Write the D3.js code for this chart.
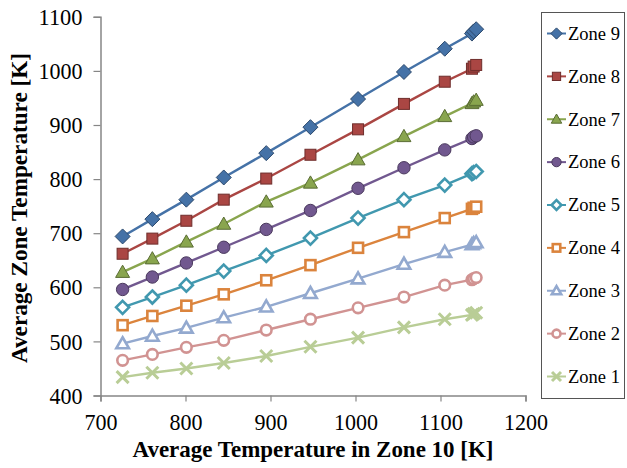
<!DOCTYPE html>
<html>
<head>
<meta charset="utf-8">
<script src="https://d3js.org/d3.v7.min.js"></script>
<style>
  body { margin: 0; background: #fff; }
</style>
</head>
<body>
<div id="chart"></div>
<script>
// Average temperature in zone 10 (x values shared by every series)
const zone10 = [726, 761, 801, 845, 895, 947, 1003, 1057, 1105, 1137, 1139, 1142];

const zone9 = [694, 726, 762, 803, 848, 896, 948, 998, 1041, 1069, 1073, 1077];
const zone8 = [662, 690, 723, 762, 801, 845, 892, 939, 980, 1004, 1008, 1011];
const zone7 = [628, 653, 684, 717, 758, 793, 836, 879, 916, 940, 943, 946];
const zone6 = [596, 619, 645, 674, 707, 742, 783, 821, 854, 875, 878, 880];
const zone5 = [563, 582, 604, 630, 659, 691, 728, 762, 789, 810, 812, 814];
const zone4 = [530, 547, 566, 587, 613, 641, 673, 702, 728, 745, 747, 749];
const zone3 = [496, 510, 525, 544, 564, 589, 616, 643, 665, 679, 681, 683];
const zone2 = [465, 476, 489, 502, 521, 541, 562, 582, 604, 614, 616, 618];
const zone1 = [434, 442, 450, 460, 473, 490, 507, 526, 541, 549, 551, 553];

const xTicks = [700, 800, 900, 1000, 1100, 1200];
const yTicks = [400, 500, 600, 700, 800, 900, 1000, 1100];

// legend order, top to bottom
const series = [
  { name: "Zone 9", values: zone9, color: "#4572A7", marker: "diamond", fill: true },
  { name: "Zone 8", values: zone8, color: "#AA4643", marker: "square", fill: true },
  { name: "Zone 7", values: zone7, color: "#89A54E", marker: "triangle", fill: true },
  { name: "Zone 6", values: zone6, color: "#71588F", marker: "circle", fill: true },
  { name: "Zone 5", values: zone5, color: "#4198AF", marker: "diamond", fill: false },
  { name: "Zone 4", values: zone4, color: "#DB843D", marker: "square", fill: false },
  { name: "Zone 3", values: zone3, color: "#93A9CF", marker: "triangle", fill: false },
  { name: "Zone 2", values: zone2, color: "#D19392", marker: "circle", fill: false },
  { name: "Zone 1", values: zone1, color: "#B9CD96", marker: "cross", fill: false }
];

const serif = "Liberation Serif";
const width = 627, height = 468;
const svg = d3.select("#chart").append("svg")
  .attr("width", width).attr("height", height)
  .attr("font-family", serif);

const x = d3.scaleLinear().domain([700, 1200]).range([100.5, 525.5]);
const y = d3.scaleLinear().domain([400, 1100]).range([395.5, 16.8]);

const axisColor = "#868686";

// x axis
const gx = svg.append("g").attr("transform", `translate(0,${y(400)})`)
  .call(d3.axisBottom(x).tickValues(xTicks).tickSize(6).tickFormat(d3.format("d")));
// y axis
const gy = svg.append("g").attr("transform", `translate(${x(700)},0)`)
  .call(d3.axisLeft(y).tickValues(yTicks).tickSize(7).tickPadding(11).tickFormat(d3.format("d")));

[gx, gy].forEach(g => {
  g.attr("font-family", serif).attr("font-size", 24);
  g.select(".domain").attr("stroke", axisColor).attr("stroke-width", 1.5);
  g.selectAll(".tick line").attr("stroke", axisColor).attr("stroke-width", 1.2);
  // figure text is slightly taller than wide: squeeze each label to ~11px per digit
  g.selectAll(".tick text").attr("fill", "#000")
    .attr("textLength", d => String(d).length * 11)
    .attr("lengthAdjust", "spacingAndGlyphs");
});
gx.selectAll(".tick text").attr("y", 34.5).attr("dy", 0);

// axis titles
svg.append("text")
  .attr("x", 313).attr("y", 457)
  .attr("text-anchor", "middle")
  .attr("textLength", 361).attr("lengthAdjust", "spacingAndGlyphs")
  .attr("font-size", 23).attr("font-weight", "bold")
  .text("Average Temperature in Zone 10 [K]");

svg.append("text")
  .attr("transform", "translate(27,208) rotate(-90)")
  .attr("text-anchor", "middle")
  .attr("textLength", 310).attr("lengthAdjust", "spacingAndGlyphs")
  .attr("font-size", 23).attr("font-weight", "bold")
  .text("Average Zone Temperature [K]");

// marker drawing
function darker(c) { return d3.color(c).darker(1.2).formatHex(); }

function drawMarker(g, s, scale) {
  const k = scale || 1;
  const sw = s.fill ? 1 : 2.6;
  const stroke = s.fill ? darker(s.color) : s.color;
  const fill = s.fill ? s.color : "#fff";
  if (s.marker === "diamond") {
    const r = (s.fill ? 7.5 : 6.5) * k;
    g.append("path").attr("d", `M0,${-r}L${r},0L0,${r}L${-r},0Z`)
      .attr("fill", fill).attr("stroke", stroke).attr("stroke-width", sw);
  } else if (s.marker === "square") {
    const r = (s.fill ? 5.5 : 5) * k;
    g.append("rect").attr("x", -r).attr("y", -r).attr("width", 2 * r).attr("height", 2 * r)
      .attr("fill", fill).attr("stroke", stroke).attr("stroke-width", sw);
  } else if (s.marker === "triangle") {
    const r = (s.fill ? 7 : 6.3) * k;
    g.append("path").attr("d", `M0,${-r}L${r},${r * 0.75}L${-r},${r * 0.75}Z`)
      .attr("fill", fill).attr("stroke", stroke).attr("stroke-width", sw);
  } else if (s.marker === "circle") {
    const r = (s.fill ? 6.2 : 5.3) * k;
    g.append("circle").attr("r", r)
      .attr("fill", fill).attr("stroke", stroke).attr("stroke-width", sw);
  } else if (s.marker === "cross") {
    const r = 6 * k;
    g.append("path").attr("d", `M${-r},${-r}L${r},${r}M${-r},${r}L${r},${-r}`)
      .attr("fill", "none").attr("stroke", s.color).attr("stroke-width", 3);
  }
}

const line = d3.line().x(d => x(d[0])).y(d => y(d[1]));

// draw series bottom-up so Zone 9 sits on top
series.slice().reverse().forEach(s => {
  const pts = zone10.map((xv, i) => [xv, s.values[i]]);
  const g = svg.append("g");
  g.append("path").datum(pts).attr("d", line)
    .attr("fill", "none").attr("stroke", s.color).attr("stroke-width", 2.4);
  pts.forEach(p => {
    const m = g.append("g").attr("transform", `translate(${x(p[0])},${y(p[1])})`);
    drawMarker(m, s);
  });
});

// legend
const legend = svg.append("g");
legend.append("rect").attr("x", 541.5).attr("y", 12.5).attr("width", 83).attr("height", 386)
  .attr("fill", "#fff").attr("stroke", "#555").attr("stroke-width", 1);

const ly = d3.scalePoint().domain(series.map(s => s.name)).range([33.5, 376.5]);
series.forEach(s => {
  const g = legend.append("g").attr("transform", `translate(0,${ly(s.name)})`);
  g.append("line").attr("x1", 547).attr("x2", 566).attr("y1", 0).attr("y2", 0)
    .attr("stroke", s.color).attr("stroke-width", 2);
  const m = g.append("g").attr("transform", "translate(556.5,0)");
  drawMarker(m, s, 0.75);
  g.append("text").attr("x", 568).attr("y", 0).attr("dy", "0.35em")
    .attr("textLength", 52).attr("lengthAdjust", "spacingAndGlyphs")
    .attr("font-size", 18).text(s.name);
});
</script>
</body>
</html>
